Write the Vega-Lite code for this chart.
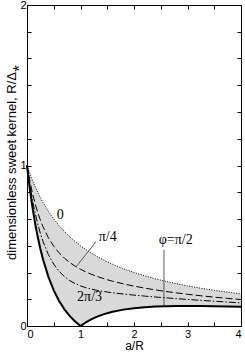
{
  "$schema": "https://vega.github.io/schema/vega-lite/v6.json",
  "width": 214,
  "height": 321,
  "autosize": {"type": "none"},
  "padding": {"left": 27, "top": 5, "right": 4, "bottom": 27},
  "background": "white",
  "config": {
    "view": {"stroke": "black", "strokeWidth": 1},
    "axis": {
      "domainColor": "black",
      "tickColor": "black",
      "labelColor": "black",
      "titleColor": "black",
      "labelFont": "Liberation Sans",
      "titleFont": "Liberation Sans",
      "labelFontSize": 11,
      "titleFontSize": 13,
      "titleFontWeight": "normal",
      "grid": false,
      "tickSize": -4
    }
  },
  "datasets": {
    "curves": [
      {"a": 0, "phi0": 1, "phi45": 1, "phi120": 1, "phi90": 1},
      {"a": 0.05, "phi0": 0.9524, "phi45": 0.9082, "phi120": 0.8852, "phi90": 0.8617},
      {"a": 0.1, "phi0": 0.9091, "phi45": 0.8306, "phi120": 0.7884, "phi90": 0.7438},
      {"a": 0.15, "phi0": 0.8696, "phi45": 0.7646, "phi120": 0.7063, "phi90": 0.6427},
      {"a": 0.2, "phi0": 0.8333, "phi45": 0.7082, "phi120": 0.6365, "phi90": 0.5556},
      {"a": 0.25, "phi0": 0.8, "phi45": 0.6597, "phi120": 0.5769, "phi90": 0.48},
      {"a": 0.3, "phi0": 0.7692, "phi45": 0.6178, "phi120": 0.5259, "phi90": 0.4142},
      {"a": 0.4, "phi0": 0.7143, "phi45": 0.5495, "phi120": 0.4448, "phi90": 0.3061},
      {"a": 0.5, "phi0": 0.6667, "phi45": 0.4969, "phi120": 0.3849, "phi90": 0.2222},
      {"a": 0.6, "phi0": 0.625, "phi45": 0.4555, "phi120": 0.3405, "phi90": 0.1563},
      {"a": 0.7, "phi0": 0.5882, "phi45": 0.4224, "phi120": 0.3076, "phi90": 0.1038},
      {"a": 0.8, "phi0": 0.5556, "phi45": 0.3953, "phi120": 0.2829, "phi90": 0.0617},
      {"a": 0.9, "phi0": 0.5263, "phi45": 0.3727, "phi120": 0.2642, "phi90": 0.0277},
      {"a": 1.0, "phi0": 0.5, "phi45": 0.3536, "phi120": 0.25, "phi90": 0},
      {"a": 1.1, "phi0": 0.4762, "phi45": 0.3371, "phi120": 0.2389, "phi90": 0.0227},
      {"a": 1.2, "phi0": 0.4545, "phi45": 0.3227, "phi120": 0.2301, "phi90": 0.0413},
      {"a": 1.3, "phi0": 0.4348, "phi45": 0.31, "phi120": 0.2229, "phi90": 0.0567},
      {"a": 1.4, "phi0": 0.4167, "phi45": 0.2987, "phi120": 0.2168, "phi90": 0.0694},
      {"a": 1.5, "phi0": 0.4, "phi45": 0.2884, "phi120": 0.2117, "phi90": 0.08},
      {"a": 1.6, "phi0": 0.3846, "phi45": 0.2791, "phi120": 0.2071, "phi90": 0.0888},
      {"a": 1.8, "phi0": 0.3571, "phi45": 0.2626, "phi120": 0.1992, "phi90": 0.102},
      {"a": 2.0, "phi0": 0.3333, "phi45": 0.2485, "phi120": 0.1925, "phi90": 0.1111},
      {"a": 2.2, "phi0": 0.3125, "phi45": 0.236, "phi120": 0.1863, "phi90": 0.1172},
      {"a": 2.4, "phi0": 0.2941, "phi45": 0.2249, "phi120": 0.1806, "phi90": 0.1211},
      {"a": 2.6, "phi0": 0.2778, "phi45": 0.2149, "phi120": 0.1753, "phi90": 0.1235},
      {"a": 2.8, "phi0": 0.2632, "phi45": 0.2059, "phi120": 0.1702, "phi90": 0.1247},
      {"a": 3.0, "phi0": 0.25, "phi45": 0.1976, "phi120": 0.1654, "phi90": 0.125},
      {"a": 3.25, "phi0": 0.2353, "phi45": 0.1883, "phi120": 0.1596, "phi90": 0.1246},
      {"a": 3.5, "phi0": 0.2222, "phi45": 0.1798, "phi120": 0.1542, "phi90": 0.1235},
      {"a": 3.75, "phi0": 0.2105, "phi45": 0.172, "phi120": 0.1491, "phi90": 0.1219},
      {"a": 4.0, "phi0": 0.2, "phi45": 0.1649, "phi120": 0.1442, "phi90": 0.12}
    ],
    "labels": [
      {"a": 0.62, "y": 0.693, "text": "0"},
      {"a": 1.51, "y": 0.556, "text": "π/4"},
      {"a": 1.17, "y": 0.179, "text": "2π/3"},
      {"a": 2.78, "y": 0.538, "text": "φ=π/2"}
    ],
    "leaders": [
      {"a": 0.92, "y": 0.37, "a2": 1.29, "y2": 0.525},
      {"a": 2.56, "y": 0.122, "a2": 2.56, "y2": 0.475}
    ]
  },
  "layer": [
    {
      "data": {"name": "curves"},
      "mark": {"type": "area", "color": "#d9d9d9"},
      "encoding": {
        "x": {
          "field": "a", "type": "quantitative",
          "scale": {"domain": [0, 4], "nice": false},
          "axis": {
            "orient": "bottom",
            "values": [0, 0.5, 1, 1.5, 2, 2.5, 3, 3.5, 4],
            "labelExpr": "datum.value % 1 == 0 ? format(datum.value, 'd') : ''",
            "labelPadding": 6,
            "title": "a/R",
            "titleFontSize": 12,
            "titleX": 107,
            "titleY": 26.5,
            "titleAlign": "center",
            "titleBaseline": "bottom"
          }
        },
        "y": {
          "field": "phi0", "type": "quantitative",
          "scale": {"domain": [0, 2], "nice": false},
          "axis": {
            "orient": "left",
            "values": [0, 0.16667, 0.33333, 0.5, 0.66667, 0.83333, 1, 1.16667, 1.33333, 1.5, 1.66667, 1.83333, 2],
            "labelExpr": "datum.value % 1 == 0 ? format(datum.value, 'd') : ''",
            "labelPadding": 5,
            "title": "dimensionless sweet kernel, R/Δ⁎",
            "titleX": -16,
            "titleY": 157,
            "titleAngle": -90,
            "titleAlign": "center",
            "titleBaseline": "middle"
          }
        },
        "y2": {"field": "phi90"}
      }
    },
    {
      "data": {"name": "curves"},
      "mark": {"type": "line", "color": "black", "strokeWidth": 1, "strokeDash": [1, 1.5]},
      "encoding": {
        "x": {"field": "a", "type": "quantitative", "axis": null},
        "y": {"field": "phi0", "type": "quantitative", "axis": null}
      }
    },
    {
      "data": {"name": "curves"},
      "mark": {"type": "line", "color": "black", "strokeWidth": 1, "strokeDash": [7, 3]},
      "encoding": {
        "x": {"field": "a", "type": "quantitative", "axis": null},
        "y": {"field": "phi45", "type": "quantitative", "axis": null}
      }
    },
    {
      "data": {"name": "curves"},
      "mark": {"type": "line", "color": "black", "strokeWidth": 1, "strokeDash": [7, 2, 1.5, 2]},
      "encoding": {
        "x": {"field": "a", "type": "quantitative", "axis": null},
        "y": {"field": "phi120", "type": "quantitative", "axis": null}
      }
    },
    {
      "data": {"name": "curves"},
      "mark": {"type": "line", "color": "black", "strokeWidth": 2},
      "encoding": {
        "x": {"field": "a", "type": "quantitative", "axis": null},
        "y": {"field": "phi90", "type": "quantitative", "axis": null}
      }
    },
    {
      "data": {"name": "leaders"},
      "mark": {"type": "rule", "color": "#333333", "strokeWidth": 0.8},
      "encoding": {
        "x": {"field": "a", "type": "quantitative", "axis": null},
        "y": {"field": "y", "type": "quantitative", "axis": null},
        "x2": {"field": "a2"},
        "y2": {"field": "y2"}
      }
    },
    {
      "data": {"name": "labels"},
      "mark": {"type": "text", "font": "Liberation Serif", "fontSize": 14, "fill": "black", "align": "center", "baseline": "middle"},
      "encoding": {
        "x": {
          "field": "a", "type": "quantitative",
          "axis": {
            "orient": "top",
            "values": [0, 0.5, 1, 1.5, 2, 2.5, 3, 3.5, 4],
            "labels": false,
            "title": null
          }
        },
        "y": {
          "field": "y", "type": "quantitative",
          "axis": {
            "orient": "right",
            "values": [0, 0.16667, 0.33333, 0.5, 0.66667, 0.83333, 1, 1.16667, 1.33333, 1.5, 1.66667, 1.83333, 2],
            "labels": false,
            "title": null
          }
        },
        "text": {"field": "text"},
        "color": {"value": "black"}
      }
    }
  ],
  "resolve": {"axis": {"x": "independent", "y": "independent"}}
}
